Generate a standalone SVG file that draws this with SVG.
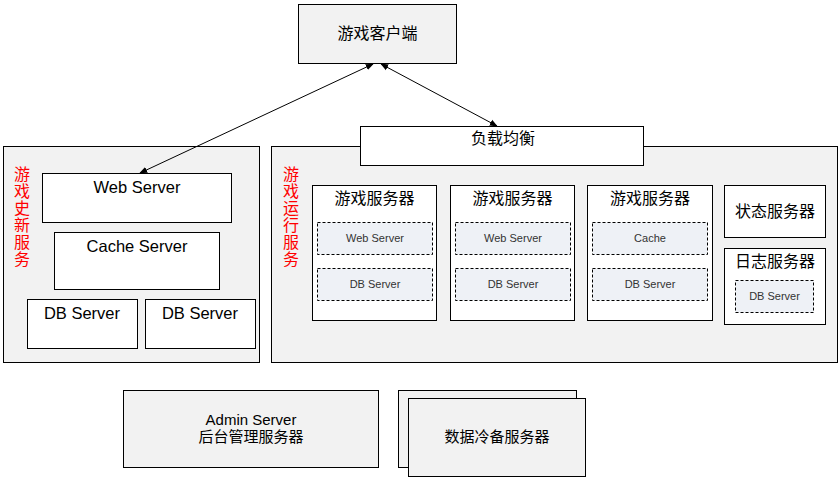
<svg xmlns="http://www.w3.org/2000/svg" width="839" height="478" viewBox="0 0 839 478">
<style>
text{font-family:"Liberation Sans","Noto Sans CJK SC",sans-serif;fill:#000;text-anchor:middle}
.box{fill:#fff;stroke:#000;stroke-width:1}
.gray{fill:#f2f2f2;stroke:#000;stroke-width:1}
.dash{fill:#eef1f6;stroke:#000;stroke-width:1;stroke-dasharray:3,2}
.t165{font-size:16.5px}
.t15{font-size:15px}
.t16{font-size:16px}
.t11{font-size:11px;fill:#333}
.red{font-size:16px;fill:#ff0000}
.con{stroke:#000;stroke-width:1;fill:none;marker-start:url(#ah);marker-end:url(#ah)}
</style>
<defs>
<marker id="ah" viewBox="0 0 10 10" refX="9" refY="5" markerWidth="8" markerHeight="8" markerUnits="userSpaceOnUse" orient="auto-start-reverse">
<path d="M0,1 L10,5 L0,9 z" fill="#000"/>
</marker>
</defs>
<rect width="839" height="478" fill="#fff"/>

<g id="client">
<rect class="gray" x="298.5" y="4.5" width="158" height="59"/>
<text class="t16" x="377.5" y="39">游戏客户端</text>
</g>

<g id="left-panel">
<rect class="gray" x="3.5" y="146.5" width="256" height="216"/>
<text class="red" x="22" y="180">游</text>
<text class="red" x="22" y="197">戏</text>
<text class="red" x="22" y="214">史</text>
<text class="red" x="22" y="231">新</text>
<text class="red" x="22" y="248">服</text>
<text class="red" x="22" y="265">务</text>
</g>
<g id="web-server">
<rect class="box" x="42.5" y="173.5" width="189" height="49"/>
<text class="t165" x="137" y="193">Web Server</text>
</g>
<g id="cache-server">
<rect class="box" x="54.5" y="232.5" width="165" height="57"/>
<text class="t165" x="137" y="252">Cache Server</text>
</g>
<g id="db-server-1">
<rect class="box" x="27.5" y="299.5" width="110" height="49"/>
<text class="t165" x="82" y="319">DB Server</text>
</g>
<g id="db-server-2">
<rect class="box" x="145.5" y="299.5" width="110" height="49"/>
<text class="t165" x="200" y="319">DB Server</text>
</g>

<g id="right-panel">
<rect class="gray" x="271.5" y="146.5" width="566" height="216"/>
<text class="red" x="291" y="180">游</text>
<text class="red" x="291" y="197">戏</text>
<text class="red" x="291" y="214">运</text>
<text class="red" x="291" y="231">行</text>
<text class="red" x="291" y="248">服</text>
<text class="red" x="291" y="265">务</text>
</g>
<g id="load-balancer">
<rect class="box" x="360.5" y="126.5" width="283" height="39"/>
<text class="t16" x="503" y="144">负载均衡</text>
</g>

<g id="game-server-1">
<rect class="box" x="312.5" y="185.5" width="124" height="135"/>
<text class="t16" x="374.5" y="204">游戏服务器</text>
<rect class="dash" x="317.5" y="222.5" width="115" height="32"/>
<text class="t11" x="375" y="242">Web Server</text>
<rect class="dash" x="317.5" y="268.5" width="115" height="32"/>
<text class="t11" x="375" y="288">DB Server</text>
</g>
<g id="game-server-2">
<rect class="box" x="450.5" y="185.5" width="124" height="135"/>
<text class="t16" x="512.5" y="204">游戏服务器</text>
<rect class="dash" x="455.5" y="222.5" width="115" height="32"/>
<text class="t11" x="513" y="242">Web Server</text>
<rect class="dash" x="455.5" y="268.5" width="115" height="32"/>
<text class="t11" x="513" y="288">DB Server</text>
</g>
<g id="game-server-3">
<rect class="box" x="587.5" y="185.5" width="125" height="135"/>
<text class="t16" x="650" y="204">游戏服务器</text>
<rect class="dash" x="592.5" y="222.5" width="115" height="32"/>
<text class="t11" x="650" y="242">Cache</text>
<rect class="dash" x="592.5" y="268.5" width="115" height="32"/>
<text class="t11" x="650" y="288">DB Server</text>
</g>
<g id="status-server">
<rect class="box" x="724.5" y="185.5" width="101" height="52"/>
<text class="t16" x="775" y="217">状态服务器</text>
</g>
<g id="log-server">
<rect class="box" x="724.5" y="248.5" width="101" height="76"/>
<text class="t16" x="775" y="267">日志服务器</text>
<rect class="dash" x="735.5" y="280.5" width="78" height="32"/>
<text class="t11" x="774.5" y="300">DB Server</text>
</g>

<g id="admin-server">
<rect class="gray" x="123.5" y="390.5" width="255" height="77"/>
<text class="t15" x="251" y="425">Admin Server</text>
<text class="t15" x="251" y="442">后台管理服务器</text>
</g>
<g id="backup-server">
<rect class="gray" x="398.5" y="390.5" width="178" height="77"/>
<rect class="gray" x="408.5" y="398.5" width="177" height="78"/>
<text class="t15" x="497" y="442">数据冷备服务器</text>
</g>

<g id="connectors">
<line class="con" x1="373" y1="64" x2="140" y2="173"/>
<line class="con" x1="381" y1="64" x2="497" y2="126"/>
</g>
</svg>
